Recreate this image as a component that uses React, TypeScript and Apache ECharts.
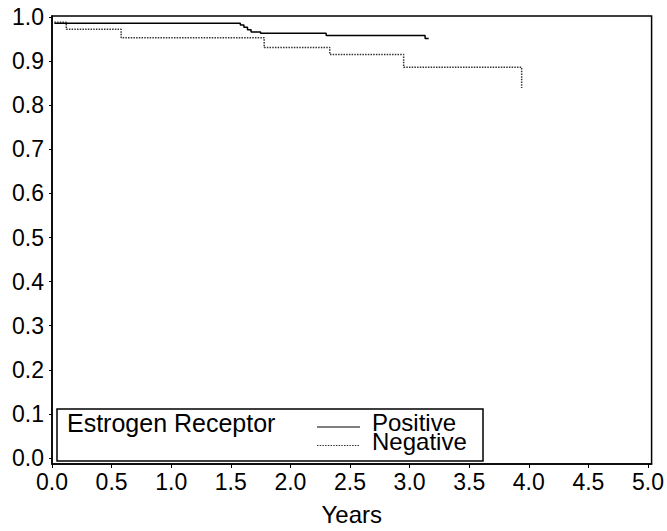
import React, { useEffect, useRef } from "react";
import * as echarts from "echarts";

// Kaplan-Meier curves (years, survival proportion)
const positiveTimes = [0.02, 1.58, 1.61, 1.64, 1.67, 1.75, 2.3, 3.13, 3.16];
const positiveSurvival = [0.986, 0.982, 0.977, 0.971, 0.966, 0.963, 0.958, 0.951, 0.951];

const negativeTimes = [0.02, 0.12, 0.58, 1.78, 2.33, 2.95, 3.94];
const negativeSurvival = [0.988, 0.972, 0.953, 0.931, 0.915, 0.886, 0.839];

const xTicks = [0, 0.5, 1, 1.5, 2, 2.5, 3, 3.5, 4, 4.5, 5];
const yTicks = [0, 0.1, 0.2, 0.3, 0.4, 0.5, 0.6, 0.7, 0.8, 0.9, 1.0];

const seriesNames = ["Positive", "Negative"];
const legendTitle = "Estrogen Receptor";
const xAxisName = "Years";

const FONT = "'Liberation Sans', Arial, sans-serif";
const POS_STYLE = { color: "#000", width: 1.5, type: "solid" as const };
const NEG_STYLE = { color: "#333", width: 1.5, type: [1.5, 1.2] };

export default function App() {
  const ref = useRef<HTMLDivElement>(null);

  useEffect(() => {
    if (!ref.current) return;
    const chart = echarts.init(ref.current, undefined, { renderer: "svg" });

    const pos = positiveTimes.map((t, i) => [t, positiveSurvival[i]]);
    const neg = negativeTimes.map((t, i) => [t, negativeSurvival[i]]);

    const legendText = (name: string, y: number) => ({
      type: "text",
      x: 372,
      y,
      style: {
        text: name,
        fontSize: 24,
        lineHeight: 18,
        fontFamily: FONT,
        fill: "#000",
        verticalAlign: "middle",
      },
      z: 2,
    });

    chart.setOption({
      animation: false,
      backgroundColor: "#ffffff",
      textStyle: { fontFamily: FONT, color: "#000" },
      grid: {
        left: 52,
        right: 6,
        top: 16,
        bottom: 65,
        show: true,
        borderColor: "#000",
        borderWidth: 1.5,
        backgroundColor: "transparent",
      },
      xAxis: {
        type: "value",
        min: 0,
        max: 5.03,
        name: xAxisName,
        nameLocation: "middle",
        nameGap: 38,
        nameTextStyle: { fontSize: 24, color: "#000", fontFamily: FONT },
        axisLine: { show: true, onZero: false, lineStyle: { color: "#000", width: 1.5 } },
        axisTick: {
          show: true,
          length: 4,
          customValues: xTicks,
          lineStyle: { color: "#000", width: 1 },
        },
        axisLabel: {
          customValues: xTicks,
          fontSize: 23,
          color: "#000",
          fontFamily: FONT,
          margin: 6,
          formatter: (v: number) => v.toFixed(1),
        },
        splitLine: { show: false },
      },
      yAxis: {
        type: "value",
        min: -0.0135,
        max: 1.0023,
        axisLine: { show: true, onZero: false, lineStyle: { color: "#000", width: 1.5 } },
        axisTick: {
          show: true,
          length: 3,
          customValues: yTicks,
          lineStyle: { color: "#000", width: 1 },
        },
        axisLabel: {
          customValues: yTicks,
          fontSize: 23,
          color: "#000",
          fontFamily: FONT,
          margin: 8,
          formatter: (v: number) => v.toFixed(1),
        },
        splitLine: { show: false },
      },
      graphic: [
        {
          type: "rect",
          shape: { x: 57, y: 409, width: 426, height: 52 },
          style: { fill: "#fff", stroke: "#000", lineWidth: 1.5 },
          z: 0,
          silent: true,
        },
        {
          type: "text",
          x: 67,
          y: 423,
          style: {
            text: legendTitle,
            fontSize: 25,
            fontFamily: FONT,
            fill: "#000",
            verticalAlign: "middle",
          },
          z: 1,
        },
        {
          type: "line",
          shape: { x1: 317, y1: 427, x2: 360, y2: 427 },
          style: { stroke: POS_STYLE.color, lineWidth: 1.2 },
          z: 2,
        },
        {
          type: "line",
          shape: { x1: 317, y1: 445.5, x2: 360, y2: 445.5 },
          style: { stroke: NEG_STYLE.color, lineWidth: 1.2, lineDash: [1.5, 1.2] },
          z: 2,
        },
        legendText(seriesNames[0], 422),
        legendText(seriesNames[1], 441),
      ],
      series: [
        {
          name: seriesNames[0],
          type: "line",
          step: "end",
          data: pos,
          symbol: "none",
          lineStyle: POS_STYLE,
          itemStyle: { color: POS_STYLE.color },
          z: 3,
        },
        {
          name: seriesNames[1],
          type: "line",
          step: "end",
          data: neg,
          symbol: "none",
          lineStyle: NEG_STYLE,
          itemStyle: { color: NEG_STYLE.color },
          z: 3,
        },
      ],
    });

    return () => chart.dispose();
  }, []);

  return (
    <div
      ref={ref}
      style={{ width: 667, height: 531, position: "absolute", left: 0, top: 0 }}
    />
  );
}
